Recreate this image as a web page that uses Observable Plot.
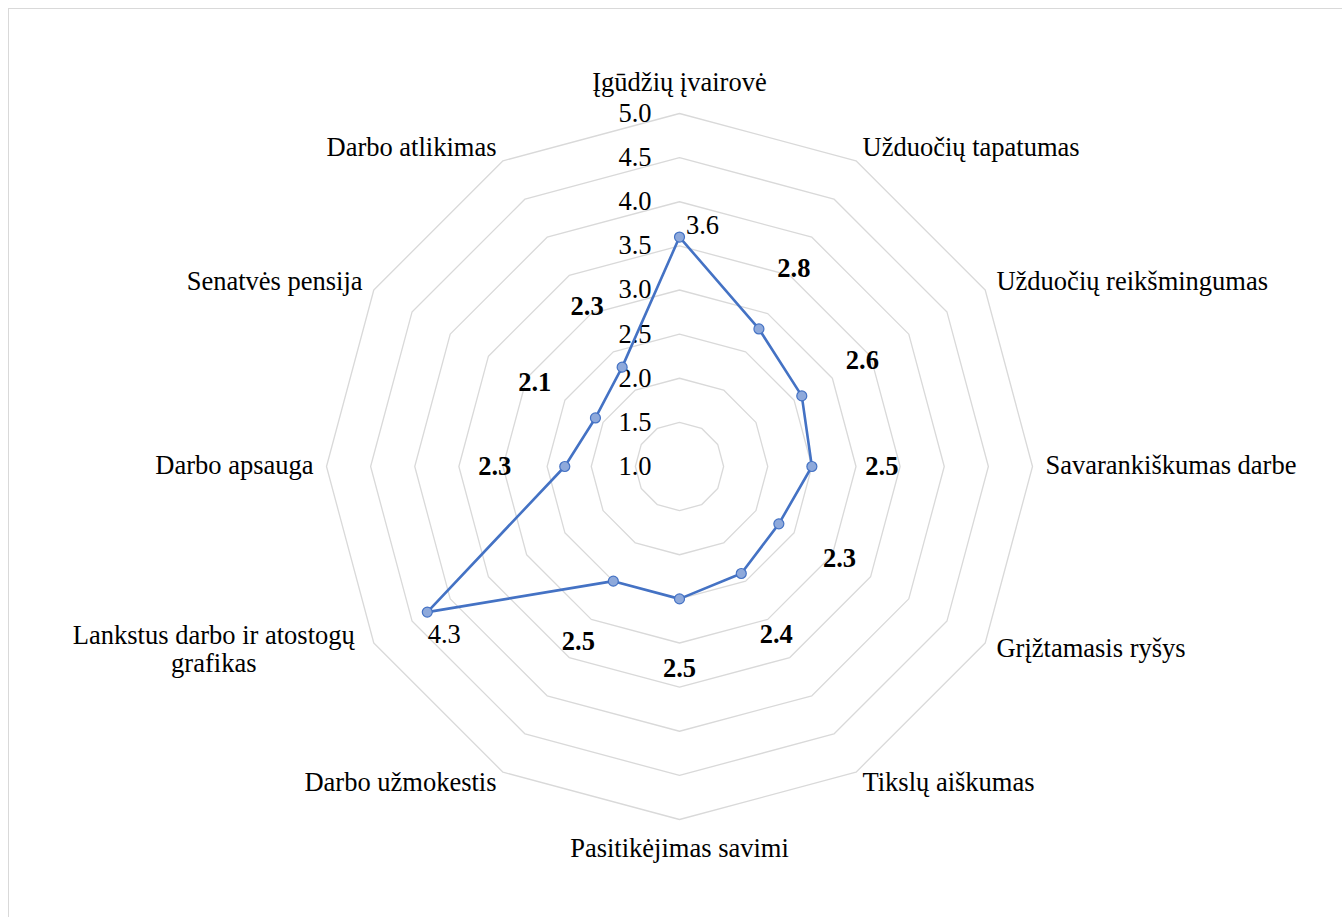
<!DOCTYPE html>
<html>
<head>
<meta charset="utf-8">
<script src="https://cdn.jsdelivr.net/npm/d3@7"></script>
<script src="https://cdn.jsdelivr.net/npm/@observablehq/plot@0.6"></script>
<style>
  html, body { margin: 0; padding: 0; background: #fff; }
  #wrap { position: relative; width: 1342px; height: 917px; overflow: hidden; }
  #edge { position: absolute; left: 8px; top: 8px; width: 1400px; height: 1000px;
          border-left: 1.5px solid #d9d9d9; border-top: 1.5px solid #d9d9d9; }
  #chart { position: absolute; left: 0; top: 0; }
</style>
</head>
<body>
<div id="wrap"><div id="edge"></div><div id="chart"></div></div>
<script>
// Dimensions of work, clockwise from the top
const categories = [
  "Įgūdžių įvairovė",
  "Užduočių tapatumas",
  "Užduočių reikšmingumas",
  "Savarankiškumas darbe",
  "Grįžtamasis ryšys",
  "Tikslų aiškumas",
  "Pasitikėjimas savimi",
  "Darbo užmokestis",
  "Lankstus darbo ir atostogų\ngrafikas",
  "Darbo apsauga",
  "Senatvės pensija",
  "Darbo atlikimas"
];
const values = [3.6, 2.8, 2.6, 2.5, 2.3, 2.4, 2.5, 2.5, 4.3, 2.3, 2.1, 2.3];
// Labels drawn in regular weight; the rest are bold
const plainLabels = [0, 8];
const gridLevels = [1.5, 2.0, 2.5, 3.0, 3.5, 4.0, 4.5, 5.0];
const tickValues = [1.0, 1.5, 2.0, 2.5, 3.0, 3.5, 4.0, 4.5, 5.0];
const tickLabels = ["1.0", "1.5", "2.0", "2.5", "3.0", "3.5", "4.0", "4.5", "5.0"];
const vMin = 1.0, vMax = 5.0;

const W = 1342, H = 917;
const cx = 679, cy = 466, R = 353;           // centre and outer radius in pixels
const unit = R / (vMax - vMin);              // pixels per value unit
const FONT = "'Liberation Serif', 'Times New Roman', serif";
const FS = 26.5;

const n = categories.length;
const ang = i => (i * 2 * Math.PI) / n;      // clockwise from north
const px = (v, i) => (v - vMin) * Math.sin(ang(i));
const py = (v, i) => (v - vMin) * Math.cos(ang(i));

// Concentric dodecagon rings
const rings = gridLevels.flatMap(l => d3.range(n).map(i => ({level: l, x: px(l, i), y: py(l, i)})));
// Series points
const pts = values.map((v, i) => ({v, i, x: px(v, i), y: py(v, i)}));

const marks = [
  Plot.line(rings, {x: "x", y: "y", z: "level", curve: "linear-closed", stroke: "#d9d9d9", strokeWidth: 1.3}),
  Plot.text(tickValues.map((t, k) => ({x: 0, y: t - vMin, label: tickLabels[k]})), {
    x: "x", y: "y", text: "label", textAnchor: "end", dx: -28, dy: 0,
    fontSize: FS, fontFamily: FONT, fill: "#000"
  }),
  Plot.line(pts, {x: "x", y: "y", curve: "linear-closed", stroke: "#4472C4", strokeWidth: 2.6}),
  Plot.dot(pts, {x: "x", y: "y", r: 5, fill: "#8EA9DB", stroke: "#4472C4", strokeWidth: 1.2})
];

// Value labels: bold ones sit 70px outward along their spoke
pts.forEach(p => {
  if (plainLabels.includes(p.i)) return;
  const a = ang(p.i);
  marks.push(Plot.text([p], {
    x: "x", y: "y", text: d => d.v.toFixed(1),
    dx: 70 * Math.sin(a), dy: -70 * Math.cos(a),
    fontSize: FS, fontWeight: "bold", fontFamily: FONT, fill: "#000"
  }));
});
marks.push(Plot.text([pts[0]], {x: "x", y: "y", text: d => d.v.toFixed(1), dx: 23, dy: -12,
  fontSize: FS, fontFamily: FONT, fill: "#000"}));
marks.push(Plot.text([pts[8]], {x: "x", y: "y", text: d => d.v.toFixed(1), dx: 17, dy: 22,
  fontSize: FS, fontFamily: FONT, fill: "#000"}));

// Category labels just outside the outer ring
categories.forEach((c, i) => {
  const a = ang(i);
  const s = Math.sin(a), co = Math.cos(a);
  let anchor = Math.abs(s) < 0.1 ? "middle" : (s > 0 ? "start" : "end");
  let dx = 13 * s;
  let dy = (Math.abs(co) > 0.95 ? -30 * co : -14 * co) - 2;
  if (c.includes("\n")) { anchor = "middle"; dx = -160; dy = 6; }
  marks.push(Plot.text([{x: px(vMax, i), y: py(vMax, i), t: c}], {
    x: "x", y: "y", text: "t", textAnchor: anchor, dx, dy, lineHeight: 1.06,
    fontSize: FS, fontFamily: FONT, fill: "#000"
  }));
});

const chart = Plot.plot({
  width: W, height: H,
  margin: 0,
  x: {domain: [-cx / unit, (W - cx) / unit], axis: null},
  y: {domain: [-(H - cy) / unit, cy / unit], axis: null},
  style: {background: "transparent", overflow: "visible"},
  marks
});
document.getElementById("chart").appendChild(chart);
</script>
</body>
</html>
